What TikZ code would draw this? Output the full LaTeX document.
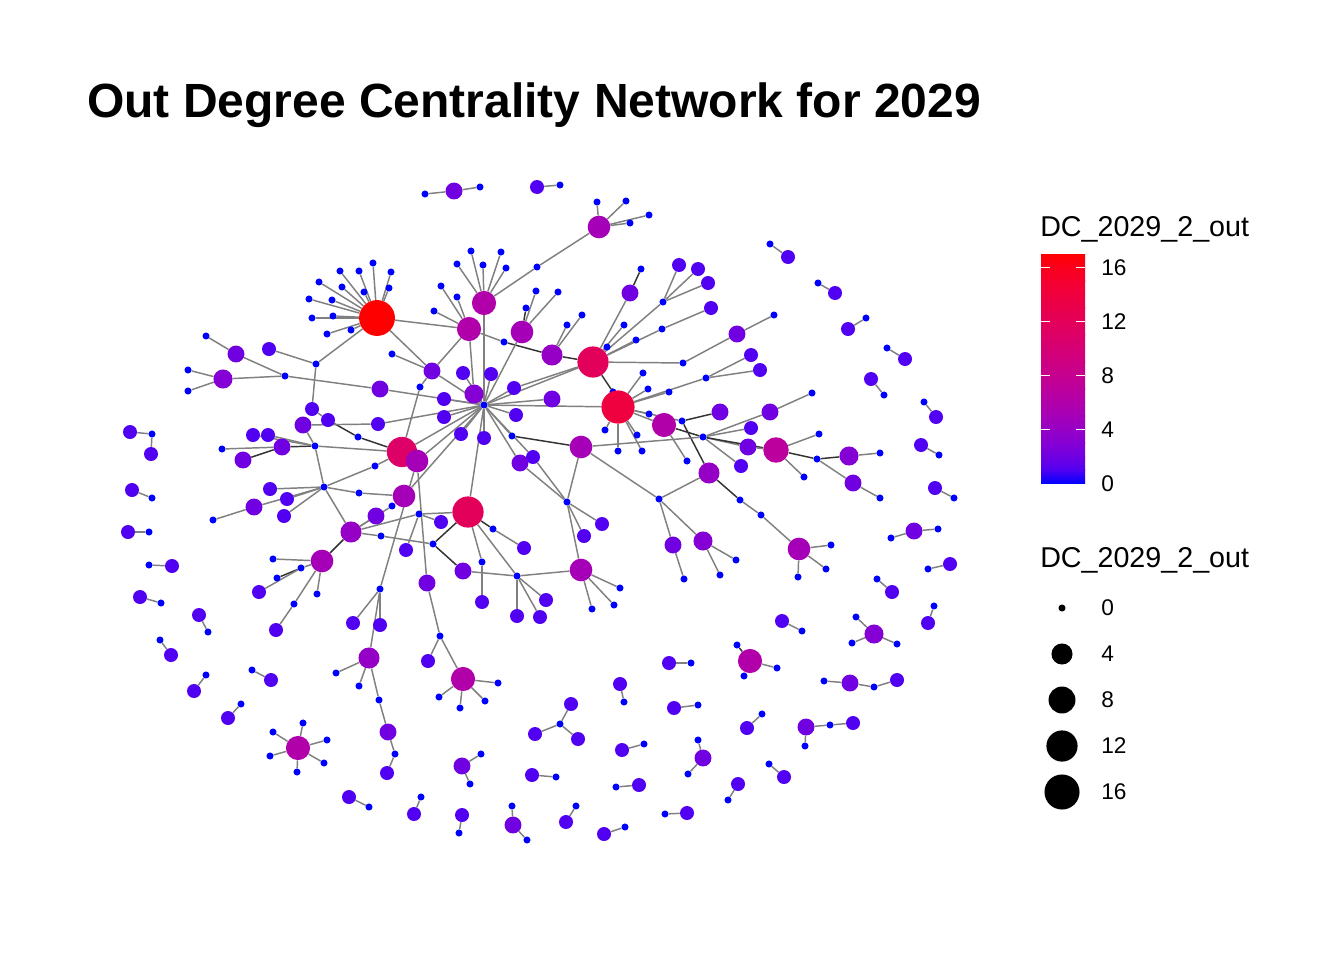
\documentclass[tikz,border=0pt]{standalone}
\usepackage{fontspec}
\setmainfont{Liberation Sans}
\usetikzlibrary{backgrounds}
\definecolor{c0}{RGB}{0,0,255}
\definecolor{c1}{RGB}{81,0,241}
\definecolor{c2}{RGB}{112,0,226}
\definecolor{c3}{RGB}{133,0,212}
\definecolor{c4}{RGB}{150,0,198}
\definecolor{c5}{RGB}{165,0,184}
\definecolor{c6}{RGB}{177,0,170}
\definecolor{c7}{RGB}{188,0,157}
\definecolor{c8}{RGB}{197,0,143}
\definecolor{c9}{RGB}{206,0,130}
\definecolor{c10}{RGB}{213,0,116}
\definecolor{c11}{RGB}{221,0,103}
\definecolor{c12}{RGB}{227,0,90}
\definecolor{c13}{RGB}{233,0,76}
\definecolor{c14}{RGB}{239,0,62}
\definecolor{c15}{RGB}{245,0,47}
\definecolor{c16}{RGB}{250,0,29}
\definecolor{c17}{RGB}{255,0,0}
\definecolor{edgegray}{RGB}{128,128,128}
\tikzset{
  vtx/.style={circle, inner sep=0pt, draw=none},
  v0/.style={vtx, minimum size=5.3pt, fill=c0},
  v1/.style={vtx, minimum size=10.5pt, fill=c1},
  v2/.style={vtx, minimum size=12.7pt, fill=c2},
  v3/.style={vtx, minimum size=14.3pt, fill=c3},
  v4/.style={vtx, minimum size=15.8pt, fill=c4},
  v5/.style={vtx, minimum size=17pt, fill=c5},
  v6/.style={vtx, minimum size=18.1pt, fill=c6},
  v7/.style={vtx, minimum size=19.1pt, fill=c7},
  v11/.style={vtx, minimum size=22.7pt, fill=c11},
  v12/.style={vtx, minimum size=23.4pt, fill=c12},
  v14/.style={vtx, minimum size=24.9pt, fill=c14},
  v17/.style={vtx, minimum size=26.9pt, fill=c17},
  conn/.style={draw=edgegray, line width=1.1pt},
  connd/.style={draw=black!80, line width=1.1pt},
  keydot/.style={circle, inner sep=0pt, fill=black},
  keylab/.style={anchor=west, inner sep=0pt, font=\fontsize{17}{20}\selectfont},
  keyhead/.style={anchor=base west, inner sep=0pt, font=\fontsize{21.5}{24}\selectfont}
}
\begin{document}
\begin{tikzpicture}[x=0.75pt, y=-0.75pt]
  \useasboundingbox (0,0) rectangle (1344,960);

  \node[anchor=base west, inner sep=0pt, font=\fontsize{36}{40}\selectfont\bfseries] (title) at (87,117) {Out Degree Centrality Network for 2029};

  \node[v17] (red) at (377,318) {};
  \node[v0] (ra) at (373,263) {};
  \node[v0] (rb) at (391,272) {};
  \node[v0] (rc) at (359,271) {};
  \node[v0] (rd) at (340,271) {};
  \node[v0] (re) at (389,288) {};
  \node[v0] (rf) at (364,292) {};
  \node[v0] (rg) at (342,287) {};
  \node[v0] (rh) at (319,282) {};
  \node[v0] (ri) at (332,300) {};
  \node[v0] (rj) at (309,299) {};
  \node[v0] (rk) at (333,316) {};
  \node[v0] (rl) at (312,318) {};
  \node[v0] (rm) at (351,330) {};
  \node[v0] (rn) at (327,334) {};

  \node[v0] (la) at (316,364) {};
  \node[v1] (lb) at (269,349) {};
  \node[v2] (lc) at (236,354) {};
  \node[v0] (ld) at (206,336) {};
  \node[v0] (le) at (285,376) {};
  \node[v3] (lf) at (223,379) {};
  \node[v0] (lg) at (188,370) {};
  \node[v0] (lh) at (188,391) {};
  \node[v2] (li) at (380,389) {};
  \node[v0] (lj) at (392,354) {};

  \node[v2] (ta) at (454,191) {};
  \node[v0] (tb) at (425,194) {};
  \node[v0] (tc) at (480,187) {};
  \node[v1] (td) at (537,187) {};
  \node[v0] (te) at (560,185) {};
  \node[v5] (pk) at (599,227) {};
  \node[v0] (pa) at (597,202) {};
  \node[v0] (pb) at (626,201) {};
  \node[v0] (pc) at (649,215) {};
  \node[v0] (pd) at (630,223) {};
  \node[v0] (pe) at (537,267) {};
  \node[v6] (qk) at (484,303) {};
  \node[v0] (qa) at (471,251) {};
  \node[v0] (qb) at (501,252) {};
  \node[v0] (qc) at (483,265) {};
  \node[v0] (qd) at (457,264) {};
  \node[v0] (qe) at (506,268) {};
  \node[v6] (sk) at (469,329) {};
  \node[v0] (sa) at (441,286) {};
  \node[v0] (sb) at (457,297) {};
  \node[v0] (sc) at (434,311) {};
  \node[v0] (sd) at (504,342) {};
  \node[v4] (uk) at (552,355) {};
  \node[v0] (ua) at (567,325) {};
  \node[v0] (ub) at (582,315) {};
  \node[v5] (vk) at (522,332) {};
  \node[v0] (va) at (526,308) {};
  \node[v0] (vb) at (536,291) {};
  \node[v0] (vc) at (558,292) {};
  \node[v2] (wk) at (432,371) {};
  \node[v0] (wa) at (420,387) {};

  \node[v0] (hub) at (484,405) {};
  \node[v1] (ha) at (463,373) {};
  \node[v1] (hb) at (491,374) {};
  \node[v3] (hc) at (474,394) {};
  \node[v1] (hd) at (444,399) {};
  \node[v1] (he) at (514,388) {};
  \node[v2] (hf) at (552,399) {};
  \node[v1] (hg) at (444,417) {};
  \node[v1] (hh) at (516,415) {};
  \node[v1] (hi) at (461,434) {};
  \node[v1] (hj) at (484,438) {};
  \node[v0] (hk) at (512,436) {};

  \node[v12] (kk) at (593,362) {};
  \node[v0] (ka) at (607,347) {};
  \node[v0] (kb) at (613,392) {};
  \node[v0] (kc) at (624,325) {};
  \node[v0] (kd) at (636,340) {};
  \node[v0] (ke) at (662,329) {};
  \node[v0] (kf) at (663,302) {};
  \node[v2] (kg) at (630,293) {};
  \node[v0] (kh) at (641,269) {};
  \node[v1] (ki) at (679,265) {};
  \node[v1] (kj) at (698,269) {};
  \node[v1] (kl) at (708,283) {};
  \node[v1] (km) at (711,308) {};
  \node[v0] (kn) at (683,363) {};
  \node[v2] (ko) at (737,334) {};
  \node[v0] (kp) at (774,315) {};

  \node[v14] (xk) at (618,407) {};
  \node[v0] (xa) at (643,373) {};
  \node[v0] (xb) at (648,389) {};
  \node[v0] (xc) at (669,392) {};
  \node[v0] (xd) at (706,378) {};
  \node[v1] (xe) at (751,355) {};
  \node[v1] (xf) at (760,370) {};
  \node[v0] (xg) at (605,430) {};
  \node[v0] (xh) at (618,451) {};
  \node[v0] (xi) at (637,435) {};
  \node[v0] (xj) at (642,451) {};
  \node[v0] (xl) at (649,414) {};
  \node[v6] (yk) at (664,425) {};
  \node[v0] (ya) at (682,421) {};
  \node[v0] (yb) at (687,461) {};
  \node[v2] (za) at (720,412) {};
  \node[v0] (zk) at (703,437) {};
  \node[v1] (zb) at (751,428) {};
  \node[v2] (zc) at (748,447) {};
  \node[v1] (zd) at (741,466) {};
  \node[v2] (ze) at (770,412) {};
  \node[v0] (zf) at (812,393) {};
  \node[v7] (ek) at (776,450) {};
  \node[v0] (ea) at (819,434) {};
  \node[v0] (eb) at (804,477) {};
  \node[v0] (ec) at (817,459) {};
  \node[v3] (ed) at (849,456) {};
  \node[v0] (ee) at (880,453) {};
  \node[v2] (ef) at (853,483) {};
  \node[v0] (eg) at (880,498) {};
  \node[v4] (gk) at (709,473) {};
  \node[v0] (ga) at (740,500) {};
  \node[v0] (gb) at (761,515) {};
  \node[v5] (fk) at (799,549) {};
  \node[v0] (fa) at (831,545) {};
  \node[v0] (fb) at (826,569) {};
  \node[v0] (fc) at (798,577) {};
  \node[v0] (nk) at (659,499) {};
  \node[v2] (na) at (673,545) {};
  \node[v0] (nb) at (684,579) {};
  \node[v3] (nc) at (703,541) {};
  \node[v0] (nd) at (736,560) {};
  \node[v0] (ne) at (720,575) {};
  \node[v5] (mk) at (581,447) {};
  \node[v0] (jk) at (567,502) {};
  \node[v1] (ja) at (533,457) {};
  \node[v2] (jb) at (520,463) {};
  \node[v1] (jc) at (602,524) {};
  \node[v1] (jd) at (584,536) {};
  \node[v5] (ik) at (581,570) {};
  \node[v0] (ia) at (620,588) {};
  \node[v0] (ib) at (614,605) {};
  \node[v0] (ic) at (592,609) {};
  \node[v0] (ok) at (517,576) {};
  \node[v2] (oa) at (463,571) {};
  \node[v1] (ob) at (517,616) {};
  \node[v1] (oc) at (540,617) {};
  \node[v1] (od) at (546,600) {};
  \node[v12] (cm) at (468,512) {};
  \node[v0] (ca) at (493,529) {};
  \node[v1] (cb) at (524,548) {};
  \node[v0] (cc) at (482,562) {};
  \node[v1] (cd) at (482,602) {};
  \node[v0] (ce) at (433,544) {};
  \node[v0] (cf) at (419,514) {};
  \node[v1] (cg) at (441,522) {};
  \node[v1] (ch) at (406,550) {};

  \node[v11] (dk) at (402,452) {};
  \node[v0] (da) at (358,437) {};
  \node[v1] (db) at (328,420) {};
  \node[v1] (dc) at (312,409) {};
  \node[v0] (dd) at (315,446) {};
  \node[v2] (de) at (282,447) {};
  \node[v0] (df) at (222,449) {};
  \node[v2] (dg) at (243,460) {};
  \node[v1] (dh) at (268,435) {};
  \node[v1] (di) at (253,435) {};
  \node[v0] (dj) at (375,466) {};
  \node[v2] (dl) at (303,425) {};
  \node[v1] (dm) at (378,424) {};
  \node[v5] (bk) at (417,461) {};
  \node[v0] (ak) at (324,487) {};
  \node[v1] (aa) at (270,489) {};
  \node[v1] (ab) at (287,499) {};
  \node[v1] (ac) at (284,516) {};
  \node[v2] (ad) at (254,507) {};
  \node[v0] (ae) at (213,520) {};
  \node[v0] (af) at (359,493) {};
  \node[v5] (bb) at (404,496) {};
  \node[v4] (wn) at (351,532) {};
  \node[v0] (wo) at (381,536) {};
  \node[v0] (wp) at (392,506) {};
  \node[v2] (wq) at (376,516) {};
  \node[v5] (fn) at (322,561) {};
  \node[v0] (fo) at (273,559) {};
  \node[v0] (fp) at (301,568) {};
  \node[v0] (fq) at (277,578) {};
  \node[v1] (fr) at (259,592) {};
  \node[v0] (fs) at (317,594) {};
  \node[v0] (ft) at (294,604) {};
  \node[v1] (fu) at (276,630) {};
  \node[v2] (ba) at (427,583) {};
  \node[v0] (bc) at (440,636) {};
  \node[v1] (bd) at (428,661) {};
  \node[v6] (mg) at (463,679) {};
  \node[v0] (ma) at (498,683) {};
  \node[v0] (mb) at (485,701) {};
  \node[v0] (mc) at (460,708) {};
  \node[v0] (md) at (439,697) {};
  \node[v0] (be) at (380,589) {};
  \node[v1] (bf) at (353,623) {};
  \node[v1] (bg) at (380,625) {};
  \node[v4] (lk) at (369,658) {};
  \node[v0] (lm) at (336,673) {};
  \node[v0] (ln) at (359,686) {};
  \node[v0] (lo) at (379,700) {};
  \node[v2] (lp) at (388,732) {};
  \node[v0] (lq) at (395,754) {};
  \node[v1] (lr) at (387,773) {};

  \node[v1] (s1) at (130,432) {};
  \node[v0] (s1a) at (152,434) {};
  \node[v1] (s1b) at (151,454) {};
  \node[v1] (s2) at (132,490) {};
  \node[v0] (s2a) at (152,498) {};
  \node[v1] (s3) at (128,532) {};
  \node[v0] (s3a) at (149,532) {};
  \node[v1] (s4) at (172,566) {};
  \node[v0] (s4a) at (149,565) {};
  \node[v1] (s5) at (140,597) {};
  \node[v0] (s5a) at (161,603) {};
  \node[v1] (s6) at (199,615) {};
  \node[v0] (s6a) at (208,632) {};
  \node[v1] (s7) at (171,655) {};
  \node[v0] (s7a) at (160,640) {};
  \node[v1] (s8) at (194,691) {};
  \node[v0] (s8a) at (206,675) {};
  \node[v1] (s9) at (271,680) {};
  \node[v0] (s9a) at (252,670) {};
  \node[v1] (s10) at (228,718) {};
  \node[v0] (s10a) at (241,704) {};
  \node[v6] (st) at (298,748) {};
  \node[v0] (sta) at (303,723) {};
  \node[v0] (stb) at (327,740) {};
  \node[v0] (stc) at (273,732) {};
  \node[v0] (std) at (270,756) {};
  \node[v0] (ste) at (324,763) {};
  \node[v0] (stf) at (297,772) {};
  \node[v1] (s11) at (349,797) {};
  \node[v0] (s11a) at (369,807) {};
  \node[v1] (s12) at (414,814) {};
  \node[v0] (s12a) at (421,797) {};
  \node[v1] (s13) at (462,815) {};
  \node[v0] (s13a) at (459,833) {};
  \node[v2] (s14) at (513,825) {};
  \node[v0] (s14a) at (512,806) {};
  \node[v0] (s14b) at (527,840) {};
  \node[v1] (s15) at (566,822) {};
  \node[v0] (s15a) at (576,806) {};
  \node[v1] (s16) at (604,834) {};
  \node[v0] (s16a) at (625,827) {};
  \node[v2] (s17) at (462,766) {};
  \node[v0] (s17a) at (481,754) {};
  \node[v0] (s17b) at (470,784) {};
  \node[v1] (s18) at (532,775) {};
  \node[v0] (s18a) at (556,777) {};
  \node[v0] (s19) at (560,724) {};
  \node[v1] (s19a) at (571,704) {};
  \node[v1] (s19b) at (535,734) {};
  \node[v1] (s19c) at (578,739) {};
  \node[v1] (s20) at (620,684) {};
  \node[v0] (s20a) at (624,702) {};
  \node[v1] (s21) at (669,663) {};
  \node[v0] (s21a) at (691,663) {};
  \node[v1] (s22) at (674,708) {};
  \node[v0] (s22a) at (698,705) {};
  \node[v1] (s23) at (622,750) {};
  \node[v0] (s23a) at (644,744) {};
  \node[v1] (s24) at (639,785) {};
  \node[v0] (s24a) at (616,787) {};
  \node[v1] (s25) at (687,813) {};
  \node[v0] (s25a) at (665,814) {};
  \node[v2] (s26) at (703,758) {};
  \node[v0] (s26a) at (698,740) {};
  \node[v0] (s26b) at (688,774) {};
  \node[v6] (s27) at (750,661) {};
  \node[v0] (s27a) at (737,645) {};
  \node[v0] (s27b) at (777,668) {};
  \node[v0] (s27c) at (744,676) {};
  \node[v1] (s28) at (747,728) {};
  \node[v0] (s28a) at (762,714) {};
  \node[v2] (s29) at (806,727) {};
  \node[v0] (s29a) at (830,725) {};
  \node[v0] (s29b) at (805,746) {};
  \node[v1] (s29c) at (853,723) {};
  \node[v1] (s30) at (784,777) {};
  \node[v0] (s30a) at (769,764) {};
  \node[v1] (s31) at (738,784) {};
  \node[v0] (s31a) at (728,800) {};
  \node[v1] (s32) at (782,621) {};
  \node[v0] (s32a) at (802,631) {};
  \node[v3] (s33) at (874,634) {};
  \node[v0] (s33a) at (856,617) {};
  \node[v0] (s33b) at (852,643) {};
  \node[v0] (s33c) at (897,644) {};
  \node[v2] (s34) at (850,683) {};
  \node[v0] (s34a) at (824,681) {};
  \node[v0] (s34b) at (874,687) {};
  \node[v1] (s34c) at (897,680) {};
  \node[v1] (s35) at (892,592) {};
  \node[v0] (s35a) at (877,579) {};
  \node[v1] (s36) at (928,623) {};
  \node[v0] (s36a) at (934,606) {};
  \node[v1] (s37) at (950,564) {};
  \node[v0] (s37a) at (928,569) {};
  \node[v2] (s38) at (914,531) {};
  \node[v0] (s38a) at (891,538) {};
  \node[v0] (s38b) at (938,529) {};
  \node[v1] (s39) at (935,488) {};
  \node[v0] (s39a) at (954,498) {};
  \node[v1] (s40) at (921,445) {};
  \node[v0] (s40a) at (939,455) {};
  \node[v1] (s41) at (936,417) {};
  \node[v0] (s41a) at (924,402) {};
  \node[v1] (s42) at (871,379) {};
  \node[v0] (s42a) at (884,395) {};
  \node[v1] (s43) at (905,359) {};
  \node[v0] (s43a) at (887,348) {};
  \node[v1] (s44) at (848,329) {};
  \node[v0] (s44a) at (866,318) {};
  \node[v1] (s45) at (835,293) {};
  \node[v0] (s45a) at (818,283) {};
  \node[v1] (s46) at (788,257) {};
  \node[v0] (s46a) at (770,244) {};

  \begin{scope}[on background layer]
    \fill[white] (0,0) rectangle (1344,960);
    \draw[conn] (red) -- (ra);
    \draw[conn] (red) -- (rb);
    \draw[conn] (red) -- (rc);
    \draw[conn] (red) -- (rd);
    \draw[conn] (red) -- (re);
    \draw[conn] (red) -- (rf);
    \draw[conn] (red) -- (rg);
    \draw[conn] (red) -- (rh);
    \draw[conn] (red) -- (ri);
    \draw[conn] (red) -- (rj);
    \draw[conn] (red) -- (rk);
    \draw[conn] (red) -- (rl);
    \draw[conn] (red) -- (rm);
    \draw[conn] (red) -- (rn);
    \draw[conn] (red) -- (la);
    \draw[conn] (red) -- (sk);
    \draw[conn] (red) -- (wk);
    \draw[conn] (la) -- (lb);
    \draw[conn] (la) -- (dc);
    \draw[conn] (lc) -- (ld);
    \draw[conn] (lc) -- (le);
    \draw[conn] (lf) -- (le);
    \draw[conn] (lf) -- (lg);
    \draw[conn] (lf) -- (lh);
    \draw[conn] (le) -- (li);
    \draw[conn] (li) -- (hub);
    \draw[conn] (lj) -- (wk);

    \draw[conn] (ta) -- (tb);
    \draw[conn] (ta) -- (tc);
    \draw[conn] (td) -- (te);
    \draw[conn] (pk) -- (pa);
    \draw[conn] (pk) -- (pb);
    \draw[conn] (pk) -- (pc);
    \draw[conn] (pk) -- (pd);
    \draw[conn] (pk) -- (pe);
    \draw[conn] (pe) -- (qk);
    \draw[conn] (qk) -- (qa);
    \draw[conn] (qk) -- (qb);
    \draw[conn] (qk) -- (qc);
    \draw[conn] (qk) -- (qd);
    \draw[conn] (qk) -- (qe);
    \draw[conn] (qk) -- (hub);
    \draw[conn] (sk) -- (sa);
    \draw[conn] (sk) -- (sb);
    \draw[conn] (sk) -- (sc);
    \draw[conn] (sk) -- (sd);
    \draw[connd] (sd) -- (uk);
    \draw[conn] (sk) -- (hc);
    \draw[conn] (sk) -- (wk);
    \draw[conn] (uk) -- (ua);
    \draw[conn] (uk) -- (ub);
    \draw[connd] (uk) -- (kk);
    \draw[connd] (vk) -- (va);
    \draw[conn] (vk) -- (vb);
    \draw[conn] (vk) -- (vc);
    \draw[conn] (vk) -- (hub);
    \draw[conn] (wk) -- (wa);
    \draw[conn] (wk) -- (hub);
    \draw[conn] (wa) -- (dk);

    \draw[conn] (hub) -- (ha);
    \draw[conn] (hub) -- (hb);
    \draw[conn] (hub) -- (hc);
    \draw[conn] (hub) -- (hd);
    \draw[conn] (hub) -- (he);
    \draw[conn] (hub) -- (hf);
    \draw[conn] (hub) -- (hg);
    \draw[conn] (hub) -- (hh);
    \draw[conn] (hub) -- (hi);
    \draw[conn] (hub) -- (hj);
    \draw[conn] (hub) -- (hk);
    \draw[connd] (hk) -- (mk);

    \draw[conn] (kk) -- (ka);
    \draw[connd] (kk) -- (kb);
    \draw[connd] (kb) -- (xk);
    \draw[conn] (kk) -- (kc);
    \draw[conn] (kk) -- (kd);
    \draw[conn] (kk) -- (ke);
    \draw[conn] (kk) -- (kf);
    \draw[conn] (kk) -- (kg);
    \draw[connd] (kg) -- (kh);
    \draw[conn] (kf) -- (ki);
    \draw[conn] (kf) -- (kj);
    \draw[conn] (kf) -- (kl);
    \draw[conn] (ke) -- (km);
    \draw[conn] (kk) -- (hub);
    \draw[conn] (kk) -- (he);
    \draw[conn] (kk) -- (kn);
    \draw[conn] (kn) -- (ko);
    \draw[conn] (ko) -- (kp);

    \draw[conn] (xk) -- (xa);
    \draw[conn] (xk) -- (xb);
    \draw[conn] (xk) -- (xc);
    \draw[conn] (xk) -- (xd);
    \draw[conn] (xd) -- (xe);
    \draw[conn] (xd) -- (xf);
    \draw[conn] (xk) -- (xg);
    \draw[conn] (xk) -- (xh);
    \draw[conn] (xk) -- (xi);
    \draw[conn] (xk) -- (xj);
    \draw[conn] (xk) -- (xl);
    \draw[conn] (xk) -- (yk);
    \draw[conn] (xk) -- (ya);
    \draw[conn] (yk) -- (yb);
    \draw[conn] (xk) -- (hub);
    \draw[connd] (ya) -- (za);
    \draw[connd] (yk) -- (zk);
    \draw[connd] (ya) -- (gk);
    \draw[conn] (zk) -- (zb);
    \draw[conn] (zk) -- (zc);
    \draw[conn] (zk) -- (zd);
    \draw[connd] (zk) -- (ek);
    \draw[conn] (zc) -- (ek);
    \draw[conn] (ze) -- (zf);
    \draw[conn] (ze) -- (zk);
    \draw[conn] (ek) -- (ea);
    \draw[conn] (ek) -- (eb);
    \draw[connd] (ek) -- (ec);
    \draw[connd] (ec) -- (ed);
    \draw[conn] (ed) -- (ee);
    \draw[conn] (ec) -- (ef);
    \draw[conn] (ef) -- (eg);
    \draw[connd] (gk) -- (ga);
    \draw[conn] (ga) -- (gb);
    \draw[conn] (gb) -- (fk);
    \draw[conn] (fk) -- (fa);
    \draw[conn] (fk) -- (fb);
    \draw[conn] (fk) -- (fc);
    \draw[conn] (gk) -- (nk);
    \draw[conn] (nk) -- (mk);
    \draw[conn] (nk) -- (na);
    \draw[conn] (na) -- (nb);
    \draw[conn] (nk) -- (nc);
    \draw[conn] (nc) -- (nd);
    \draw[conn] (nc) -- (ne);
    \draw[conn] (mk) -- (jk);
    \draw[conn] (mk) -- (zk);
    \draw[conn] (jk) -- (ja);
    \draw[conn] (jk) -- (jb);
    \draw[conn] (jk) -- (jc);
    \draw[conn] (jk) -- (jd);
    \draw[conn] (jk) -- (ik);
    \draw[conn] (ja) -- (hub);
    \draw[conn] (jb) -- (hub);
    \draw[conn] (ik) -- (ia);
    \draw[conn] (ik) -- (ib);
    \draw[conn] (ik) -- (ic);
    \draw[conn] (ik) -- (ok);
    \draw[conn] (ok) -- (oa);
    \draw[conn] (ok) -- (ob);
    \draw[conn] (ok) -- (oc);
    \draw[conn] (ok) -- (od);
    \draw[conn] (ok) -- (cm);
    \draw[conn] (cm) -- (hub);
    \draw[connd] (cm) -- (ca);
    \draw[conn] (ca) -- (cb);
    \draw[conn] (cm) -- (cc);
    \draw[conn] (cc) -- (cd);
    \draw[connd] (cm) -- (ce);
    \draw[connd] (ce) -- (oa);
    \draw[conn] (cm) -- (cf);
    \draw[conn] (cf) -- (cg);
    \draw[conn] (cf) -- (ch);
    \draw[conn] (cf) -- (wn);

    \draw[conn] (dk) -- (hub);
    \draw[conn] (dk) -- (bk);
    \draw[connd] (dk) -- (da);
    \draw[connd] (da) -- (db);
    \draw[conn] (db) -- (dc);
    \draw[conn] (dk) -- (dd);
    \draw[connd] (dd) -- (de);
    \draw[conn] (de) -- (df);
    \draw[connd] (de) -- (dg);
    \draw[conn] (dd) -- (dh);
    \draw[conn] (di) -- (dd);
    \draw[conn] (dk) -- (dj);
    \draw[conn] (dj) -- (ak);
    \draw[conn] (dl) -- (dd);
    \draw[conn] (dl) -- (dm);
    \draw[conn] (dm) -- (hub);
    \draw[conn] (ak) -- (aa);
    \draw[conn] (ak) -- (ab);
    \draw[conn] (ak) -- (ac);
    \draw[conn] (ak) -- (ad);
    \draw[conn] (ad) -- (ae);
    \draw[conn] (ak) -- (af);
    \draw[conn] (af) -- (bb);
    \draw[conn] (ak) -- (wn);
    \draw[conn] (ak) -- (dd);
    \draw[connd] (wn) -- (fn);
    \draw[conn] (wn) -- (wo);
    \draw[conn] (wo) -- (ce);
    \draw[conn] (wn) -- (wp);
    \draw[conn] (wp) -- (bb);
    \draw[conn] (wn) -- (wq);
    \draw[conn] (bb) -- (hub);
    \draw[conn] (bk) -- (hub);
    \draw[conn] (bk) -- (ba);
    \draw[conn] (ba) -- (bc);
    \draw[conn] (bc) -- (bd);
    \draw[conn] (bc) -- (mg);
    \draw[conn] (bk) -- (be);
    \draw[conn] (be) -- (bf);
    \draw[conn] (be) -- (bg);
    \draw[conn] (be) -- (lk);
    \draw[conn] (lk) -- (lm);
    \draw[conn] (lk) -- (ln);
    \draw[conn] (lk) -- (lo);
    \draw[conn] (lo) -- (lp);
    \draw[conn] (lp) -- (lq);
    \draw[conn] (lq) -- (lr);
    \draw[conn] (mg) -- (ma);
    \draw[conn] (mg) -- (mb);
    \draw[conn] (mg) -- (mc);
    \draw[conn] (mg) -- (md);
    \draw[conn] (fn) -- (fo);
    \draw[conn] (fn) -- (fp);
    \draw[connd] (fp) -- (fq);
    \draw[conn] (fp) -- (fr);
    \draw[conn] (fn) -- (fs);
    \draw[conn] (fn) -- (ft);
    \draw[conn] (ft) -- (fu);

    \draw[conn] (s1) -- (s1a);
    \draw[conn] (s1a) -- (s1b);
    \draw[conn] (s2) -- (s2a);
    \draw[conn] (s3) -- (s3a);
    \draw[conn] (s4) -- (s4a);
    \draw[conn] (s5) -- (s5a);
    \draw[conn] (s6) -- (s6a);
    \draw[conn] (s7) -- (s7a);
    \draw[conn] (s8) -- (s8a);
    \draw[conn] (s9) -- (s9a);
    \draw[conn] (s10) -- (s10a);
    \draw[conn] (st) -- (sta);
    \draw[conn] (st) -- (stb);
    \draw[conn] (st) -- (stc);
    \draw[conn] (st) -- (std);
    \draw[conn] (st) -- (ste);
    \draw[conn] (st) -- (stf);
    \draw[conn] (s11) -- (s11a);
    \draw[conn] (s12) -- (s12a);
    \draw[conn] (s13) -- (s13a);
    \draw[conn] (s14) -- (s14a);
    \draw[conn] (s14) -- (s14b);
    \draw[conn] (s15) -- (s15a);
    \draw[conn] (s16) -- (s16a);
    \draw[conn] (s17) -- (s17a);
    \draw[conn] (s17) -- (s17b);
    \draw[conn] (s18) -- (s18a);
    \draw[conn] (s19) -- (s19a);
    \draw[conn] (s19) -- (s19b);
    \draw[conn] (s19) -- (s19c);
    \draw[conn] (s20) -- (s20a);
    \draw[conn] (s21) -- (s21a);
    \draw[conn] (s22) -- (s22a);
    \draw[conn] (s23) -- (s23a);
    \draw[conn] (s24) -- (s24a);
    \draw[conn] (s25) -- (s25a);
    \draw[conn] (s26) -- (s26a);
    \draw[conn] (s26) -- (s26b);
    \draw[connd] (s27) -- (s27a);
    \draw[conn] (s27) -- (s27b);
    \draw[conn] (s27) -- (s27c);
    \draw[conn] (s28) -- (s28a);
    \draw[conn] (s29) -- (s29a);
    \draw[conn] (s29) -- (s29b);
    \draw[conn] (s29a) -- (s29c);
    \draw[conn] (s30) -- (s30a);
    \draw[conn] (s31) -- (s31a);
    \draw[conn] (s32) -- (s32a);
    \draw[conn] (s33) -- (s33a);
    \draw[conn] (s33) -- (s33b);
    \draw[conn] (s33) -- (s33c);
    \draw[conn] (s34) -- (s34a);
    \draw[conn] (s34) -- (s34b);
    \draw[conn] (s34b) -- (s34c);
    \draw[conn] (s35) -- (s35a);
    \draw[conn] (s36) -- (s36a);
    \draw[conn] (s37) -- (s37a);
    \draw[conn] (s38) -- (s38a);
    \draw[conn] (s38) -- (s38b);
    \draw[conn] (s39) -- (s39a);
    \draw[conn] (s40) -- (s40a);
    \draw[conn] (s41) -- (s41a);
    \draw[conn] (s42) -- (s42a);
    \draw[conn] (s43) -- (s43a);
    \draw[conn] (s44) -- (s44a);
    \draw[conn] (s45) -- (s45a);
    \draw[conn] (s46) -- (s46a);
  \end{scope}

  \node[keyhead] (colhead) at (1040,236) {DC\_2029\_2\_out};
  \shade[bottom color=c0, top color=c1] (1041,483.5) rectangle (1085,469.8);
  \shade[bottom color=c1, top color=c2] (1041,470) rectangle (1085,456.3);
  \shade[bottom color=c2, top color=c3] (1041,456.5) rectangle (1085,442.8);
  \shade[bottom color=c3, top color=c4] (1041,443) rectangle (1085,429.3);
  \shade[bottom color=c4, top color=c5] (1041,429.5) rectangle (1085,415.8);
  \shade[bottom color=c5, top color=c6] (1041,416) rectangle (1085,402.3);
  \shade[bottom color=c6, top color=c7] (1041,402.5) rectangle (1085,388.8);
  \shade[bottom color=c7, top color=c8] (1041,389) rectangle (1085,375.3);
  \shade[bottom color=c8, top color=c9] (1041,375.5) rectangle (1085,361.8);
  \shade[bottom color=c9, top color=c10] (1041,362) rectangle (1085,348.3);
  \shade[bottom color=c10, top color=c11] (1041,348.5) rectangle (1085,334.8);
  \shade[bottom color=c11, top color=c12] (1041,335) rectangle (1085,321.3);
  \shade[bottom color=c12, top color=c13] (1041,321.5) rectangle (1085,307.8);
  \shade[bottom color=c13, top color=c14] (1041,308) rectangle (1085,294.3);
  \shade[bottom color=c14, top color=c15] (1041,294.5) rectangle (1085,280.8);
  \shade[bottom color=c15, top color=c16] (1041,281) rectangle (1085,267.3);
  \shade[bottom color=c16, top color=c17] (1041,267.5) rectangle (1085,254);
  \draw[white, line width=0.8pt] (1041,429.5) -- (1050,429.5) (1076,429.5) -- (1085,429.5);
  \draw[white, line width=0.8pt] (1041,375.5) -- (1050,375.5) (1076,375.5) -- (1085,375.5);
  \draw[white, line width=0.8pt] (1041,321.5) -- (1050,321.5) (1076,321.5) -- (1085,321.5);
  \draw[white, line width=0.8pt] (1041,267.5) -- (1050,267.5) (1076,267.5) -- (1085,267.5);
  \node[keylab] (col16) at (1101,267.5) {16};
  \node[keylab] (col12) at (1101,321.5) {12};
  \node[keylab] (col8) at (1101,375.5) {8};
  \node[keylab] (col4) at (1101,429.5) {4};
  \node[keylab] (col0) at (1101,483.5) {0};

  \node[keyhead] (sizehead) at (1040,567) {DC\_2029\_2\_out};
  \node[keydot, minimum size=5.3pt] (dot0) at (1062,608) {};
  \node[keydot, minimum size=15.8pt] (dot4) at (1062,654) {};
  \node[keydot, minimum size=20.2pt] (dot8) at (1062,700) {};
  \node[keydot, minimum size=23.4pt] (dot12) at (1062,746) {};
  \node[keydot, minimum size=26.3pt] (dot16) at (1062,792) {};
  \node[keylab] (size0) at (1101,608) {0};
  \node[keylab] (size4) at (1101,654) {4};
  \node[keylab] (size8) at (1101,700) {8};
  \node[keylab] (size12) at (1101,746) {12};
  \node[keylab] (size16) at (1101,792) {16};
\end{tikzpicture}
\end{document}
